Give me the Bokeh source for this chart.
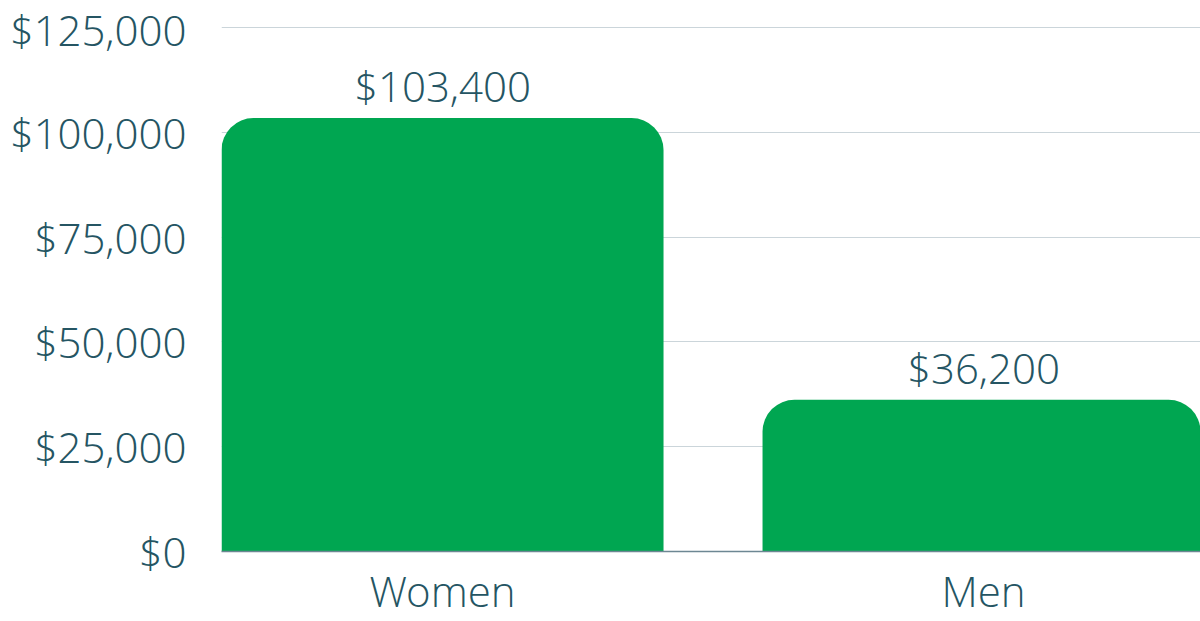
from bokeh.plotting import figure
from bokeh.models import ColumnDataSource, Range1d, FixedTicker, NumeralTickFormatter
from bokeh.core.properties import value
from bokeh.embed import file_html
from bokeh.resources import INLINE

categories = ["Women", "Men"]
earnings = [103400, 36200]
value_labels = ["$103,400", "$36,200"]
y_ticks = [0, 25000, 50000, 75000, 100000, 125000]

FONT = "'Open Sans Light', 'Open Sans'"
TXT = "#255563"
GREEN = "#00A651"

src = ColumnDataSource(dict(x=list(range(len(categories))), top=earnings, label=value_labels))

p = figure(width=1200, height=621, output_backend="svg", toolbar_location=None,
           x_range=Range1d(-0.4085, 1.401), y_range=Range1d(0, 126670),
           min_border_left=221, min_border_right=0, min_border_top=20, min_border_bottom=70)
p.outline_line_color = None
p.background_fill_color = "white"
p.border_fill_color = "white"

p.vbar(x="x", top="top", width=0.817, bottom=0, source=src, fill_color=GREEN,
       line_color=None, border_radius=(32, 32, 0, 0))

p.text(x="x", y="top", text="label", source=src, text_align="center", text_baseline="bottom",
       y_offset=-4, text_font=value(FONT), text_font_size="42px", text_color=TXT)

p.xgrid.grid_line_color = None
p.ygrid.grid_line_color = "#cbd5da"
p.ygrid.grid_line_width = 1
p.ygrid.ticker = FixedTicker(ticks=y_ticks)

p.yaxis.ticker = FixedTicker(ticks=y_ticks)
p.yaxis.formatter = NumeralTickFormatter(format="$0,0")
p.yaxis.axis_line_color = None
p.yaxis.major_tick_line_color = None
p.yaxis.minor_tick_line_color = None
p.yaxis.major_tick_out = 0
p.yaxis.major_label_standoff = 35
p.yaxis.major_label_text_font = FONT
p.yaxis.major_label_text_font_size = "42px"
p.yaxis.major_label_text_color = TXT

p.xaxis.ticker = FixedTicker(ticks=list(range(len(categories))))
p.xaxis.major_label_overrides = {i: c for i, c in enumerate(categories)}
p.xaxis.axis_line_color = "#6d8793"
p.xaxis.axis_line_width = 1.5
p.xaxis.major_tick_line_color = None
p.xaxis.minor_tick_line_color = None
p.xaxis.major_tick_out = 0
p.xaxis.major_label_standoff = 10
p.xaxis.major_label_text_font = FONT
p.xaxis.major_label_text_font_size = "42px"
p.xaxis.major_label_text_color = TXT

open("out.html", "w").write(file_html(p, INLINE))
